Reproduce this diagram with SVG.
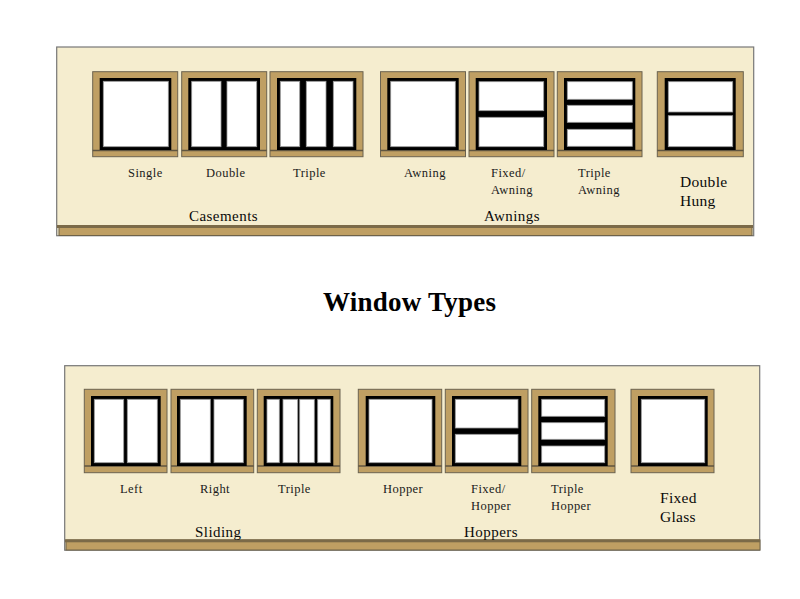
<svg xmlns="http://www.w3.org/2000/svg" width="800" height="599" viewBox="0 0 800 599">
<style>
text{font-family:"Liberation Serif","Times New Roman",serif;fill:#1a1a1a}
.s{font-size:12.5px;letter-spacing:.45px}
.m{font-size:15px;letter-spacing:.45px;fill:#0a0a0a}
.d{font-size:15.5px;letter-spacing:.3px;fill:#0a0a0a}
.t{font-size:27px;font-weight:bold;fill:#000}
.panel{fill:#f5edcf;stroke:#777;stroke-width:1.2}
.base{fill:#bf9f63;stroke:#6e6248;stroke-width:1}
.band{fill:#7b6a48}
.frame{fill:#bf9f63;stroke:#6b6350;stroke-width:1}
.sill{fill:none;stroke:#5f5540;stroke-width:1.6}
.k{fill:#000}
.g{fill:#fff;stroke:#999;stroke-width:.8}
</style>
<rect width="800" height="599" fill="#fff"/>
<g id="panel-top"><rect class="panel" x="56.7" y="47" width="697" height="188.7"/><rect class="base" x="59" y="226" width="693" height="9.5"/><rect class="band" x="57" y="225" width="696" height="3"/></g>
<g id="panel-bottom"><rect class="panel" x="64.7" y="365.7" width="695" height="184.5"/><rect class="base" x="66" y="540" width="694" height="10"/><rect class="band" x="65" y="539.3" width="695" height="3"/></g>
<text id="title" class="t" x="323" y="310.5" textLength="173" lengthAdjust="spacing">Window Types</text>
<g id="w-single"><rect class="frame" x="92.7" y="71.7" width="85" height="85"/><path class="sill" d="M92.7 150.5H177.7"/><rect class="k" x="99.7" y="78" width="71.6" height="72"/><rect class="g" x="103.3" y="81.3" width="65" height="65.4"/><text class="s" x="128" y="177">Single</text></g>
<g id="w-double"><rect class="frame" x="181.7" y="71.7" width="85" height="85"/><path class="sill" d="M181.7 150.5H266.7"/><rect class="k" x="188.3" y="78" width="71.7" height="72"/><rect class="g" x="191.7" y="81.3" width="29.3" height="65.4"/><rect class="g" x="227" y="81.3" width="29.7" height="65.4"/><text class="s" x="206" y="177">Double</text></g>
<g id="w-triple"><rect class="frame" x="270" y="71.7" width="93" height="85"/><path class="sill" d="M270 150.5H363"/><rect class="k" x="277" y="78" width="79.3" height="72"/><rect class="g" x="280.3" y="81.3" width="19.4" height="65.4"/><rect class="g" x="306.3" y="81.3" width="19.7" height="65.4"/><rect class="g" x="333.3" y="81.3" width="19.7" height="65.4"/><text class="s" x="293" y="177">Triple</text></g>
<g id="w-awning"><rect class="frame" x="380.5" y="71.7" width="85" height="85"/><path class="sill" d="M380.5 150.5H465.5"/><rect class="k" x="387.3" y="78" width="71.4" height="72"/><rect class="g" x="390.7" y="81.3" width="64.6" height="65.4"/><text class="s" x="404" y="177">Awning</text></g>
<g id="w-fixed-awning"><rect class="frame" x="469" y="71.7" width="85" height="85"/><path class="sill" d="M469 150.5H554"/><rect class="k" x="475.7" y="78" width="71.3" height="72"/><rect class="g" x="479" y="81.7" width="64.7" height="29"/><rect class="g" x="479" y="117.3" width="64.7" height="29.4"/><text class="s" x="491" y="177">Fixed/</text><text class="s" x="491" y="194">Awning</text></g>
<g id="w-triple-awning"><rect class="frame" x="557.3" y="71.7" width="84.7" height="85"/><path class="sill" d="M557.3 150.5H642"/><rect class="k" x="564" y="78" width="71.3" height="72"/><rect class="g" x="567.3" y="81.7" width="65" height="17.6"/><rect class="g" x="567.3" y="105.3" width="65" height="17"/><rect class="g" x="567.3" y="129.3" width="65" height="17"/><text class="s" x="578" y="177">Triple</text><text class="s" x="578" y="194">Awning</text></g>
<g id="w-double-hung"><rect class="frame" x="657.3" y="71.7" width="86" height="85"/><path class="sill" d="M657.3 150.5H743.3"/><rect class="k" x="664.7" y="78" width="71" height="72"/><rect class="g" x="668.3" y="81.7" width="64.4" height="30.3"/><rect class="g" x="668.3" y="115.7" width="64.4" height="31"/><text class="d" x="680" y="186.5">Double</text><text class="d" x="680" y="205.5">Hung</text></g>
<text id="l-casements" class="m" x="189" y="220.5">Casements</text>
<text id="l-awnings" class="m" x="484" y="220.5">Awnings</text>
<g id="w-left"><rect class="frame" x="84.3" y="389.3" width="82.7" height="83.4"/><path class="sill" d="M84.3 466H167"/><rect class="k" x="91" y="396" width="69.7" height="70"/><rect class="g" x="94.3" y="399.3" width="29.4" height="63.4"/><rect class="g" x="127.3" y="399.3" width="30" height="63.4"/><text class="s" x="120" y="493">Left</text></g>
<g id="w-right"><rect class="frame" x="171" y="389.3" width="82.7" height="83.4"/><path class="sill" d="M171 466H253.7"/><rect class="k" x="177" y="396" width="69.7" height="70"/><rect class="g" x="180.3" y="399.3" width="30" height="63.4"/><rect class="g" x="214" y="399.3" width="29.3" height="63.4"/><text class="s" x="200" y="493">Right</text></g>
<g id="w-slide-triple"><rect class="frame" x="257.3" y="389.3" width="82.7" height="83.4"/><path class="sill" d="M257.3 466H340"/><rect class="k" x="263.7" y="396" width="69.6" height="70"/><rect class="g" x="267" y="399.3" width="12.3" height="63.4"/><rect class="g" x="283" y="399.3" width="14.7" height="63.4"/><rect class="g" x="299.7" y="399.3" width="14.6" height="63.4"/><rect class="g" x="317.7" y="399.3" width="12.6" height="63.4"/><text class="s" x="278" y="493">Triple</text></g>
<g id="w-hopper"><rect class="frame" x="358.3" y="389.3" width="83.4" height="83.4"/><path class="sill" d="M358.3 466H441.7"/><rect class="k" x="365.7" y="396" width="69.6" height="70"/><rect class="g" x="369" y="399.3" width="63" height="63.4"/><text class="s" x="383" y="493">Hopper</text></g>
<g id="w-fixed-hopper"><rect class="frame" x="445.3" y="389.3" width="82.7" height="83.4"/><path class="sill" d="M445.3 466H528"/><rect class="k" x="452" y="396" width="69.3" height="70"/><rect class="g" x="455.3" y="399.3" width="62.7" height="28.7"/><rect class="g" x="455.3" y="434.3" width="62.7" height="28.4"/><text class="s" x="471" y="493">Fixed/</text><text class="s" x="471" y="510">Hopper</text></g>
<g id="w-triple-hopper"><rect class="frame" x="531.7" y="389.3" width="83.3" height="83.4"/><path class="sill" d="M531.7 466H615"/><rect class="k" x="538.3" y="396" width="69.4" height="70"/><rect class="g" x="541.7" y="399.3" width="63" height="17"/><rect class="g" x="541.7" y="422.7" width="63" height="16.6"/><rect class="g" x="541.7" y="446" width="63" height="16.7"/><text class="s" x="551" y="493">Triple</text><text class="s" x="551" y="510">Hopper</text></g>
<g id="w-fixed-glass"><rect class="frame" x="631" y="389.3" width="83" height="83.4"/><path class="sill" d="M631 466H714"/><rect class="k" x="638" y="396" width="69.7" height="70"/><rect class="g" x="641.3" y="399.3" width="63.4" height="63.4"/><text class="d" x="660" y="502.5">Fixed</text><text class="d" x="660" y="521.5">Glass</text></g>
<text id="l-sliding" class="m" x="195" y="536.5">Sliding</text>
<text id="l-hoppers" class="m" x="464" y="536.5">Hoppers</text>
</svg>
